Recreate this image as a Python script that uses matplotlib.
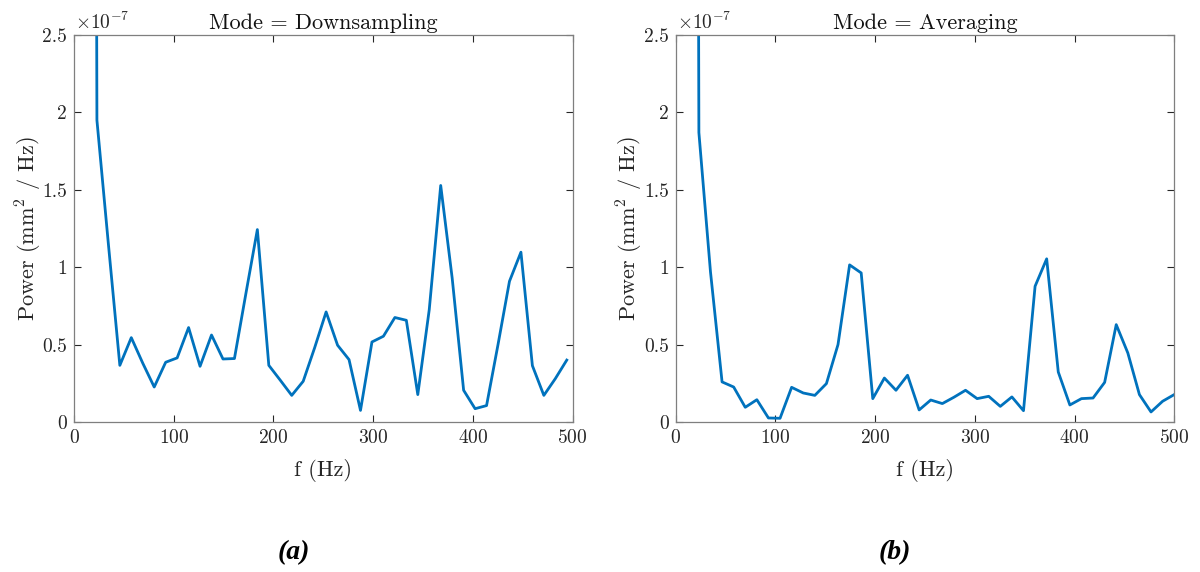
import numpy as np
import matplotlib.pyplot as plt
from matplotlib.ticker import FuncFormatter

# MATLAB/LaTeX look
plt.rcParams['font.family'] = 'serif'
plt.rcParams['font.serif'] = ['cmr10']
plt.rcParams['mathtext.fontset'] = 'cm'
plt.rcParams['axes.formatter.use_mathtext'] = True

# PSD values, in units of 1e-7 mm^2/Hz, one per frequency bin
bins = np.arange(44)
f_down = bins * 1000 / 87
f_avg = bins * 1000 / 86

p_down = [40, 30, 1.95, 1.15, 0.366, 0.545, 0.38, 0.226, 0.386, 0.414,
          0.61, 0.36, 0.562, 0.407, 0.41, 0.83, 1.243, 0.366, 0.27, 0.172,
          0.263, 0.48, 0.711, 0.496, 0.403, 0.075, 0.517, 0.554, 0.675, 0.657,
          0.177, 0.726, 1.528, 0.93, 0.205, 0.086, 0.106, 0.50, 0.909, 1.097,
          0.364, 0.172, 0.28, 0.40]

p_avg = [40, 30, 1.87, 0.97, 0.259, 0.226, 0.095, 0.144, 0.026, 0.024,
         0.224, 0.1875, 0.172, 0.248, 0.5, 1.015, 0.963, 0.151, 0.284, 0.205,
         0.302, 0.078, 0.142, 0.119, 0.16, 0.205, 0.151, 0.166, 0.101, 0.162,
         0.073, 0.877, 1.054, 0.323, 0.11, 0.151, 0.155, 0.256, 0.629, 0.446,
         0.177, 0.065, 0.134, 0.177]

panels = [
    ("Mode = Downsampling", f_down, p_down, "(a)"),
    ("Mode = Averaging", f_avg, p_avg, "(b)"),
]

fig = plt.figure(figsize=(12, 5.72), dpi=100)
lefts = [74 / 1200, 675.7 / 1200]
width = 498.5 / 1200
bottom = 1 - 422 / 572
height = 387 / 572

for left, (title, f, p, tag) in zip(lefts, panels):
    ax = fig.add_axes([left, bottom, width, height])
    ax.plot(f, p, color='#0072BD', lw=2)
    ax.set_xlim(0, 500)
    ax.set_ylim(0, 2.5)
    ax.set_xticks([0, 100, 200, 300, 400, 500])
    ax.set_yticks([0, 0.5, 1, 1.5, 2, 2.5])
    ax.yaxis.set_major_formatter(FuncFormatter(lambda v, pos: '%g' % v))
    ax.tick_params(direction='in', top=True, right=True, length=5, width=0.8,
                   color='#262626', labelcolor='#262626', labelsize=14, pad=5)
    for s in ax.spines.values():
        s.set_color('#7f7f7f')
        s.set_linewidth(0.9)
    ax.set_title(title, fontsize=16, color='#111111', pad=4)
    ax.set_xlabel('f (Hz)', fontsize=16, color='#262626', labelpad=9)
    ax.set_ylabel(r'Power (mm$^2$ / Hz)', fontsize=16, color='#262626', labelpad=-1)
    ax.text(0.003, 1.004, r'$\times10^{-7}$', transform=ax.transAxes,
            fontsize=14, color='#262626', ha='left', va='bottom')
    fig.text(left + width * 0.44, 1 - 553 / 572, tag, fontsize=20,
             family=['Liberation Serif', 'Nimbus Roman', 'DejaVu Serif'],
             weight='bold', style='italic', ha='center', va='center')

fig.savefig('out.png', dpi=100, facecolor='white')
